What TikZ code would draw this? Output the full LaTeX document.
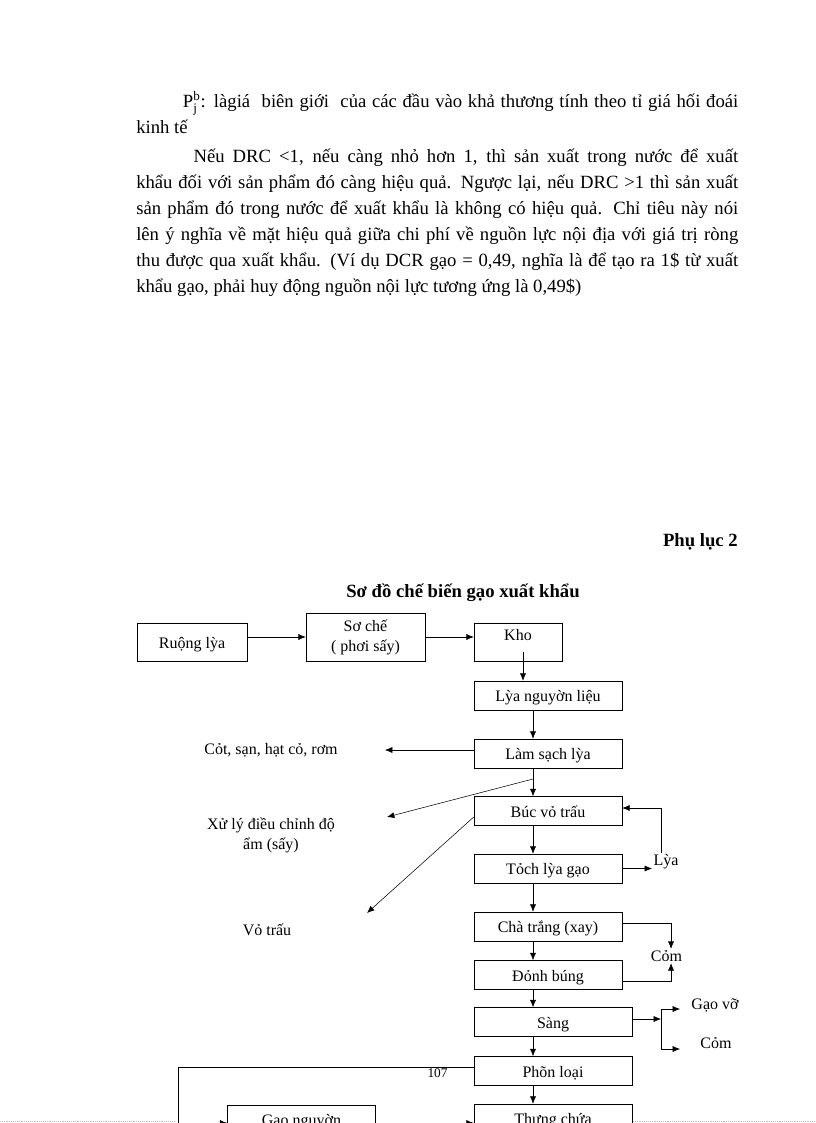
\documentclass[tikz,border=0pt]{standalone}
\usepackage{amsmath}
\usepackage{fontspec}
\setmainfont{Liberation Serif}
\usetikzlibrary{arrows.meta,calc}
\setlength{\parindent}{0pt}

\begin{document}
\begin{tikzpicture}[
        x=0.75pt,y=-0.75pt,
        >={Latex[length=5.5pt,width=4.5pt]},
        every node/.style={font=\fontsize{12}{15}\selectfont},
        stage/.style={rectangle,draw,inner sep=1pt,text height=10pt,text depth=1pt,
            minimum height=21.75pt,minimum width=111pt},
        widestage/.style={stage,minimum width=118.5pt},
        outcome/.style={align=center,inner sep=1pt},
        heading/.style={font=\fontsize{14}{16}\selectfont\bfseries,inner sep=0pt}
    ]

    \useasboundingbox (0,0) rectangle (816,1123);
    \clip (0,0) rectangle (816,1123);

    \node[anchor=north west,inner sep=0pt,text width=451.5pt,align=justify,
        font=\fontsize{14}{19.5}\selectfont] (explain) at (136,89)
        {\strut\hspace*{35pt}P$_{\text{j}}^{\text{b}}$: làgiá\ \ biên giới\ \ của các đầu vào khả thương tính theo tỉ giá hối đoái\linebreak
        kinh tế\par\vskip2pt
        \hspace*{43pt}Nếu DRC <1, nếu càng nhỏ hơn 1, thì sản xuất trong nước để xuất\linebreak
        khẩu đối với sản phẩm đó càng hiệu quả. Ngược lại, nếu DRC >1 thì sản xuất\linebreak
        sản phẩm đó trong nước để xuất khẩu là không có hiệu quả. Chỉ tiêu này nói\linebreak
        lên ý nghĩa về mặt hiệu quả giữa chi phí về nguồn lực nội địa với giá trị ròng\linebreak
        thu được qua xuất khẩu. (Ví dụ DCR gạo = 0,49, nghĩa là để tạo ra 1\$ từ xuất\linebreak
        khẩu gạo, phải huy động nguồn nội lực tương ứng là 0,49\$)};

    \node[heading,anchor=base east] (appendix) at (738,546) {Phụ lục 2};
    \node[heading,anchor=base] (title) at (463,597) {Sơ đồ chế biến gạo xuất khẩu};

    \node[stage,minimum width=82.5pt,minimum height=28.5pt] (field) at (192,642) {Ruộng lỳa};
    \node[stage,minimum width=89.25pt,minimum height=36pt,align=center,
        text height=,text depth=] (predry) at (365.5,637) {Sơ chế\\( phơi sấy)};
    \node[stage,minimum width=66pt,minimum height=28.5pt,text height=5pt,text depth=7pt] (store) at (518,642) {Kho};
    \node[stage] (paddy) at (548,695.5) {Lỳa nguyờn liệu};
    \node[stage] (cleaning) at (548,753.5) {Làm sạch lỳa};
    \node[stage] (husking) at (548,811) {Búc vỏ trấu};
    \node[stage] (separating) at (548,868.5) {Tỏch lỳa gạo};
    \node[stage] (whitening) at (548,926.5) {Chà trắng (xay)};
    \node[stage] (polishing) at (548,975) {Đỏnh búng};
    \node[widestage] (sieving) at (553,1022) {Sàng};
    \node[widestage] (grading) at (553,1071) {Phõn loại};
    \node[widestage] (bin) at (553,1118.5) {Thưng chứa};
    \node[stage] (wholerice) at (301.5,1119.5) {Gạo nguyờn};

    \node[outcome] (chaff) at (271,750) {Cỏt, sạn, hạt cỏ, rơm};
    \node[outcome] (drying) at (271,835) {Xử lý điều chỉnh độ\\ẩm (sấy)};
    \node[outcome] (husk) at (267,930) {Vỏ trấu};
    \node[outcome] (paddyback) at (666,862) {Lỳa};
    \node[outcome] (bran) at (666.5,956) {Cỏm};
    \node[outcome] (broken) at (715,1005) {Gạo vỡ};
    \node[outcome] (branfine) at (716,1043) {Cỏm};
    \node[outcome,font=\fontsize{10}{12}\selectfont] (pagenum) at (437.5,1073) {107};

    \coordinate (axis) at (533,0);
    \coordinate (chaffend) at (385,750);
    \coordinate (branch) at (533,779);
    \coordinate (dryingend) at (387,817);
    \coordinate (huskend) at (367,913);
    \coordinate (fork) at (661,1019);
    \coordinate (forktop) at (661,1009);
    \coordinate (forkbot) at (661,1049);
    \coordinate (brokenend) at (680,1009);
    \coordinate (branend) at (680,1049);
    \coordinate (corner) at (178,1123);

    \draw[->] (field.east |- predry) -- (predry.west);
    \draw[->] (predry.east) -- (store.west |- predry);
    \draw[->] ([xshift=3.75pt,yshift=6.75pt]store.south) -- ([xshift=3.75pt]store.south |- paddy.north);

    \draw[->] (paddy.south -| axis) -- (cleaning.north -| axis);
    \draw[->] (cleaning.south -| axis) -- (husking.north -| axis);
    \draw[->] (husking.south -| axis) -- (separating.north -| axis);
    \draw[->] (separating.south -| axis) -- (whitening.north -| axis);
    \draw[->] (whitening.south -| axis) -- (polishing.north -| axis);
    \draw[->] (polishing.south -| axis) -- (sieving.north -| axis);
    \draw[->] (sieving.south -| axis) -- (grading.north -| axis);
    \draw[->] (grading.south -| axis) -- (bin.north -| axis);

    \draw[->] (cleaning.west |- chaffend) -- (chaffend);
    \draw[->] (branch) -- (dryingend);
    \draw[->] ([yshift=-4.5pt]husking.west) -- (huskend);

    \draw[->] (separating.east) -- (separating.east -| paddyback.west);
    \draw[->] ([xshift=-3.75pt]paddyback.north) |- ([yshift=2.25pt]husking.east);
    \draw[->] ([yshift=2.6pt]whitening.east) -| ([xshift=3.4pt]bran.north);
    \draw[->] ([yshift=-4.5pt]polishing.east) -| ([xshift=3.4pt]bran.south);

    \draw[->] (sieving.east |- fork) -- (fork);
    \draw (forktop) -- (forkbot);
    \draw[->] (forktop) -- (brokenend);
    \draw[->] (forkbot) -- (branend);

    \draw[->] ([yshift=3pt]grading.west) -| (corner) -- (corner -| wholerice.west);
    \draw[->] (wholerice.east |- corner) -- (bin.west |- corner);

    \draw[densely dotted,gray!50] (0,1121) -- (175,1121);
    \draw[densely dotted,gray!50] (633,1121) -- (816,1121);

    \end{tikzpicture}
\end{document}
